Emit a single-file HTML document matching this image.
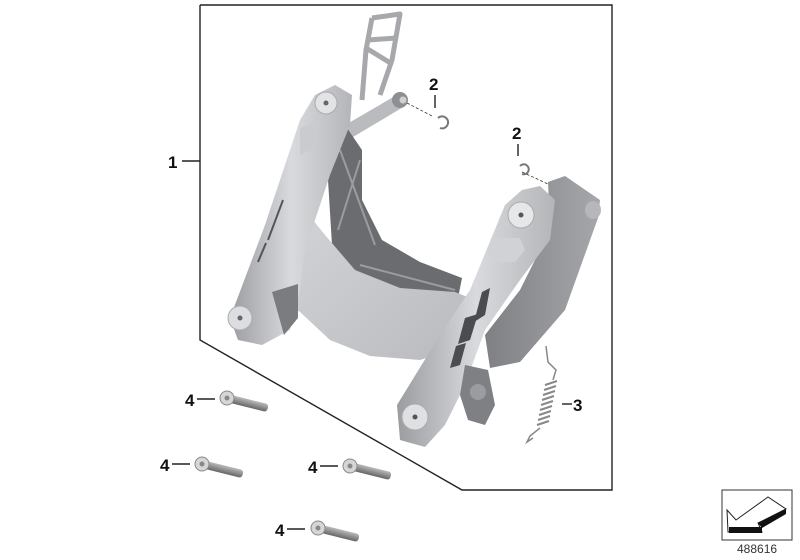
<!DOCTYPE html>
<html><head><meta charset="utf-8"><style>
html,body{margin:0;padding:0;background:#fff;width:800px;height:560px;overflow:hidden}
svg{display:block}
text{font-family:"Liberation Sans",Arial,sans-serif;font-weight:bold;font-size:17px;fill:#111}
</style></head><body>
<svg width="800" height="560" viewBox="0 0 800 560" xmlns="http://www.w3.org/2000/svg">
<defs>
<linearGradient id="g1" x1="0" y1="0" x2="1" y2="0"><stop offset="0" stop-color="#9a9ca0"/><stop offset="0.5" stop-color="#d8dadd"/><stop offset="1" stop-color="#b3b5b8"/></linearGradient>
<linearGradient id="g2" x1="0" y1="0" x2="1" y2="1"><stop offset="0" stop-color="#d4d6d9"/><stop offset="1" stop-color="#b8babd"/></linearGradient>
<linearGradient id="g3" x1="0" y1="0" x2="1" y2="0"><stop offset="0" stop-color="#7e8084"/><stop offset="1" stop-color="#a5a7aa"/></linearGradient>
<linearGradient id="bolt" x1="0" y1="0" x2="0" y2="1"><stop offset="0" stop-color="#bbb"/><stop offset="1" stop-color="#666"/></linearGradient>
</defs>
<polyline points="200,5 612,5 612,490 462,490 200,340 200,5" fill="none" stroke="#222" stroke-width="1.4"/>
<line x1="182" y1="161" x2="200" y2="161" stroke="#222" stroke-width="1.4"/>
<text x="168" y="168">1</text>

<!-- top bracket lattice -->
<g fill="none" stroke="#a6a8ab" stroke-width="5" stroke-linejoin="round">
<polyline points="372,18 400,14 392,60 380,95"/>
<polyline points="372,18 366,50 362,100"/>
<line x1="368" y1="40" x2="396" y2="38"/>
<line x1="366" y1="48" x2="392" y2="64"/>
</g>
<polygon points="340,128 395,96 405,106 348,140" fill="#b9bbbe"/>
<circle cx="400" cy="100" r="8" fill="#8d8f93"/><circle cx="403" cy="100" r="3.5" fill="#d0d0d0"/>

<!-- dark link behind right arm -->
<polygon points="548,182 565,176 600,200 598,218 565,310 520,362 490,368 485,335 520,290 550,230" fill="url(#g3)"/>
<ellipse cx="593" cy="210" rx="8" ry="9" fill="#b5b7ba"/>

<!-- dark interior -->
<polygon points="345,125 362,150 362,200 382,240 420,262 462,278 458,298 400,292 358,275 332,245 328,180" fill="#6a6c70"/>
<g stroke="#9a9ca0" stroke-width="2"><line x1="340" y1="150" x2="375" y2="245"/><line x1="360" y1="160" x2="338" y2="230"/><line x1="360" y1="265" x2="455" y2="290"/></g>

<!-- central U body -->
<path d="M285,185 L325,235 L355,270 L400,288 L455,292 L475,300 L458,348 L420,360 L370,356 L330,340 L300,312 L282,300 Z" fill="url(#g2)"/>
<!-- left arm -->
<path d="M230,318 L265,225 L300,120 L315,95 L335,85 L352,95 L350,125 L330,175 L305,250 L300,290 L290,330 L262,345 L238,340 Z" fill="url(#g1)"/>
<circle cx="326" cy="103" r="11" fill="#e2e3e5" stroke="#a9abae"/><circle cx="326" cy="103" r="2.5" fill="#666"/>
<circle cx="240" cy="318" r="12" fill="#dcdde0" stroke="#a9abae"/><circle cx="240" cy="318" r="2.5" fill="#666"/>
<polygon points="300,128 320,120 316,148 300,155" fill="#c9cbce"/>
<g stroke="#555" stroke-width="2"><line x1="268" y1="240" x2="283" y2="200"/><line x1="258" y1="262" x2="266" y2="243"/></g>
<polygon points="272,292 298,284 298,318 284,335" fill="#7a7c80"/>

<!-- right arm -->
<path d="M400,440 L397,405 L440,335 L470,290 L505,205 L522,190 L540,186 L555,200 L550,240 L520,280 L485,330 L465,385 L445,425 L425,447 Z" fill="url(#g1)"/>
<circle cx="521" cy="215" r="13" fill="#e6e7e9" stroke="#a9abae"/><circle cx="521" cy="215" r="2.5" fill="#555"/>
<circle cx="415" cy="417" r="13" fill="#dfe0e2" stroke="#a9abae"/><circle cx="415" cy="417" r="2.5" fill="#555"/>
<polygon points="493,238 520,238 525,250 515,262 495,262 488,252" fill="#d0d2d5"/>
<g fill="#4a4c50"><polygon points="482,292 490,288 485,315 474,322"/><polygon points="465,318 478,314 470,340 458,344"/><polygon points="456,346 466,343 460,365 450,368"/></g>
<polygon points="465,365 488,370 495,405 485,425 468,420 460,395" fill="#7e8084"/>
<circle cx="478" cy="392" r="8" fill="#9a9c9f"/>

<!-- circlips -->
<path d="M438,118 a6,6 0 1 1 2,10" fill="none" stroke="#777" stroke-width="2"/>
<line x1="407" y1="103" x2="432" y2="116" stroke="#333" stroke-width="0.8" stroke-dasharray="3,2"/>
<path d="M520,166 a5,5 0 1 1 2,8" fill="none" stroke="#777" stroke-width="2"/>
<line x1="522" y1="172" x2="548" y2="184" stroke="#333" stroke-width="0.8" stroke-dasharray="3,2"/>
<text x="429" y="90">2</text><line x1="435" y1="95" x2="435" y2="108" stroke="#222" stroke-width="1.4"/>
<text x="512" y="139">2</text><line x1="518" y1="144" x2="518" y2="156" stroke="#222" stroke-width="1.4"/>

<!-- spring -->
<path d="M546,346 L548,362 L556,370 L553,380" fill="none" stroke="#888" stroke-width="1.5"/>
<g stroke="#888" stroke-width="2" fill="none">
<path d="M545,385 l12,-4 M544,390 l12,-4 M543,395 l12,-4 M542,400 l12,-4 M541,405 l12,-4 M540,410 l12,-4 M539,415 l12,-4 M538,420 l12,-4 M537,425 l12,-4"/>
</g>
<path d="M540,428 L530,436 L527,442 L533,438" fill="none" stroke="#888" stroke-width="1.5"/>
<line x1="562" y1="404" x2="572" y2="404" stroke="#222" stroke-width="1.4"/>
<text x="573" y="411">3</text>

<g transform="translate(227,398) rotate(14)"><rect x="2" y="-4" width="40" height="8" rx="3" fill="url(#bolt)"/><circle cx="0" cy="0" r="7" fill="#d6d6d6" stroke="#888"/><circle cx="0" cy="0" r="2.5" fill="#888"/></g>
<g transform="translate(202,464) rotate(14)"><rect x="2" y="-4" width="40" height="8" rx="3" fill="url(#bolt)"/><circle cx="0" cy="0" r="7" fill="#d6d6d6" stroke="#888"/><circle cx="0" cy="0" r="2.5" fill="#888"/></g>
<g transform="translate(350,466) rotate(14)"><rect x="2" y="-4" width="40" height="8" rx="3" fill="url(#bolt)"/><circle cx="0" cy="0" r="7" fill="#d6d6d6" stroke="#888"/><circle cx="0" cy="0" r="2.5" fill="#888"/></g>
<g transform="translate(318,528) rotate(14)"><rect x="2" y="-4" width="40" height="8" rx="3" fill="url(#bolt)"/><circle cx="0" cy="0" r="7" fill="#d6d6d6" stroke="#888"/><circle cx="0" cy="0" r="2.5" fill="#888"/></g>
<text x="185" y="406">4</text><line x1="197" y1="399" x2="215" y2="399" stroke="#222" stroke-width="1.4"/>
<text x="160" y="471">4</text><line x1="172" y1="464" x2="190" y2="464" stroke="#222" stroke-width="1.4"/>
<text x="308" y="473">4</text><line x1="320" y1="466" x2="338" y2="466" stroke="#222" stroke-width="1.4"/>
<text x="275" y="536">4</text><line x1="287" y1="529" x2="305" y2="529" stroke="#222" stroke-width="1.4"/>

<rect x="722" y="490" width="70" height="50" fill="#fff" stroke="#333" stroke-width="1"/>
<polygon points="727,510 736,520 768,497 786,509 758,523 762,532 728,532" fill="#fff" stroke="#222" stroke-width="1"/>
<polygon points="729,527 762,527 762,533 729,533" fill="#111"/>
<polygon points="758,523 786,509 786,514 762,528" fill="#111"/>
<text x="737" y="553" style="font-weight:normal;font-size:12px;fill:#333">488616</text>
</svg>
</body></html>
